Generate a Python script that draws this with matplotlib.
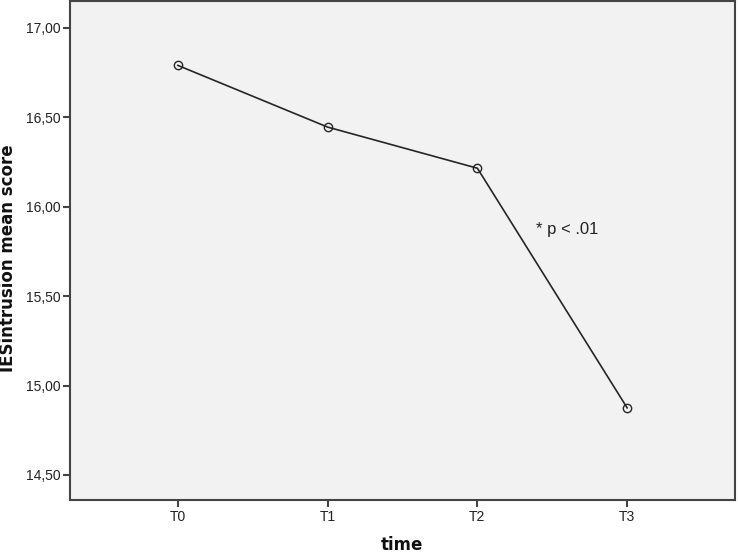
import matplotlib
matplotlib.use("Agg")
import matplotlib.pyplot as plt
from matplotlib.ticker import FuncFormatter

categories = ["T0", "T1", "T2", "T3"]
means = [16.79, 16.445, 16.215, 14.875]
yticks = [14.5, 15.0, 15.5, 16.0, 16.5, 17.0]

plt.rcParams['font.family'] = ['Liberation Sans', 'DejaVu Sans']

fig = plt.figure(figsize=(7.38, 5.53), dpi=100)
ax = fig.add_axes([70/738, 53/553, 665/738, 499/553])
ax.set_facecolor('#f2f2f2')

x = list(range(len(categories)))
ax.plot(x, means, color='#262626', linewidth=1.2, marker='o', markersize=6,
        markerfacecolor='none', markeredgecolor='#262626', markeredgewidth=1.0)

ax.set_xlim(-0.72, 3.72)
ax.set_ylim(14.36, 17.15)
ax.set_xticks(x)
ax.set_xticklabels(categories)
ax.set_yticks(yticks)
ax.yaxis.set_major_formatter(FuncFormatter(lambda v, p: f"{v:.2f}".replace('.', ',')))

for s in ax.spines.values():
    s.set_color('#444444')
    s.set_linewidth(1.5)
ax.tick_params(axis='both', length=5, width=1.5, color='#444444', labelsize=10, labelcolor='#222222', pad=2)

ax.text(2.39, 15.87, "* p < .01", fontsize=12, color='#222222', va='center', ha='left')

fig.text(8/738, 1 - 258/553, "IESintrusion mean score", rotation=90, fontsize=12,
         fontweight='bold', family='DejaVu Sans', ha='center', va='center', color='#111111')
fig.text(402/738, 1 - 545/553, "time", fontsize=12, fontweight='bold',
         family='DejaVu Sans', ha='center', va='center', color='#111111')

fig.savefig("out.png", dpi=100)
